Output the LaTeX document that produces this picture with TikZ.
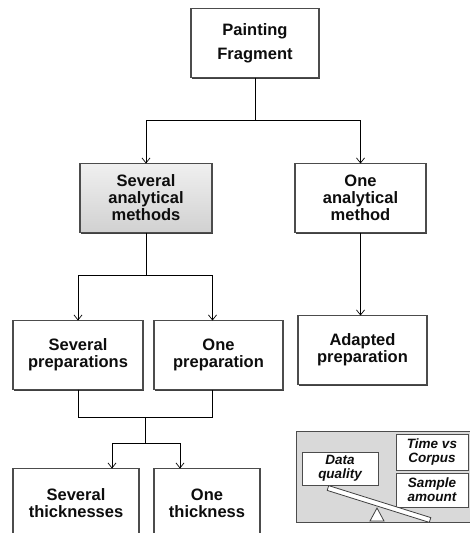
\documentclass[tikz,border=0pt]{standalone}
\usepackage{fontspec}
\setsansfont{Liberation Sans}
\usetikzlibrary{positioning, arrows.meta, shadows, calc}
\tikzset{%
  box/.style={draw=black!70, line width=1.1pt, fill=white, align=center,
    minimum height=69pt, inner sep=2pt, outer sep=0pt, text=black!95,
    font=\sffamily\bfseries\fontsize{16.5}{17}\selectfont,
    drop shadow={shadow xshift=1pt, shadow yshift=-1pt, fill=black!75, opacity=1}},
  smallbox/.style={draw=black!70, line width=0.9pt, fill=white, align=center,
    inner sep=1pt, outer sep=0pt, text=black!95,
    font=\sffamily\bfseries\itshape\fontsize{13.5}{14}\selectfont,
    drop shadow={shadow xshift=1pt, shadow yshift=-1pt, fill=black!60, opacity=1}},
  link/.style={draw, line width=0.7pt}
}

\begin{document}
\begin{tikzpicture}[x=1pt, y=1pt, >={Straight Barb[length=5pt, width=8pt]}]
\useasboundingbox (0,0) rectangle (470,-533);
\clip (0,0) rectangle (470,-533);

% the tree
\node[box, minimum width=128pt] (pf) at (255,-43) {Painting\\[7pt]Fragment};
\node[box, minimum width=132pt, top color=black!6, bottom color=black!18,
  below=86pt of pf, xshift=-109pt] (sam) {Several\\analytical\\methods};
\node[box, minimum width=131pt, right=83pt of sam] (oam) {One\\analytical\\method};
\node[box, minimum width=129pt, below=83pt of oam, xshift=2pt] (ap) {Adapted\\preparation};

\node[box, minimum width=130pt, below=88pt of sam, xshift=-68pt] (sp) {Several\\preparations};
\node[box, minimum width=129pt, right=11pt of sp] (op) {One\\preparation};

\node[box, minimum width=126pt, below=79pt of sp, xshift=-2pt] (st) {Several\\thicknesses};
\node[box, minimum width=106pt, right=15pt of st] (ot) {One\\thickness};

\coordinate (j1) at ($(pf.south)+(0,-43)$);
\draw[link] (pf) -- (j1);
\draw[link, ->] (j1) -| (sam);
\draw[link, ->] (j1) -| (oam);
\draw[link, ->] (oam) -- (oam |- ap.north);

\coordinate (j2) at ($(sam.south)+(0,-43)$);
\draw[link] (sam) -- (j2);
\draw[link, ->] (j2) -| (sp);
\draw[link, ->] (j2) -| ([xshift=-6pt]op.north);

\coordinate (j3) at ($(sp.south)!0.5!([xshift=-6pt]op.south)+(0,-28)$);
\draw[link] (sp.south) |- (j3) -| ([xshift=-6pt]op.south);
\draw[link] (j3) -- ++(0,-26) coordinate (j4);
\draw[link, ->] (j4) -| ([xshift=36pt]st.north);
\draw[link, ->] (j4) -| ([xshift=-27pt]ot.north);

% the balance
\node[draw=black!70, fill=black!15, line width=0.8pt, minimum width=180pt,
  minimum height=91pt, anchor=north west] (panel) at (296,-431) {};
\node[smallbox, minimum width=76pt, minimum height=33pt] (dq) at (340,-468.5) {Data\\quality};
\node[smallbox, minimum width=72pt, minimum height=36pt] (tc) at (432,-452) {Time vs\\Corpus};
\node[smallbox, minimum width=72pt, minimum height=34pt] (sa) at (432,-490) {Sample\\amount};
\draw[fill=white, line width=0.8pt, draw=black!75] (377,-508) -- (384,-521) -- (370,-521) -- cycle;
\node[draw=black!75, fill=white, line width=0.8pt, minimum width=107pt, minimum height=5pt,
  inner sep=0pt, rotate=-17.4] (beam) at (379,-504) {};

\end{tikzpicture}
\end{document}
